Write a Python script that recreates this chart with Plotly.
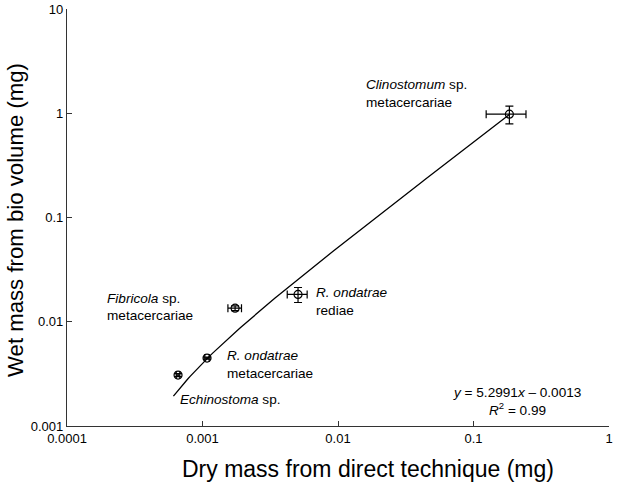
"""Wet mass from bio volume vs dry mass from direct technique (log-log)."""
import numpy as np
import plotly.graph_objects as go

FONT = "Liberation Sans, Arial, sans-serif"

# Parasite groups
groups = ["Clinostomum sp.", "R. ondatrae rediae", "Fibricola sp.",
          "R. ondatrae metacercariae", "Echinostoma sp."]
dry_mass = [0.184, 0.00507, 0.00174, 0.00108, 0.00066]
dry_err = [0.06, 0.00085, 0.0002, 0.00004, 0.00002]
wet_mass = [0.98, 0.0183, 0.0135, 0.00448, 0.00308]
wet_err = [0.19, 0.003, 0.0007, 0.0001, 0.0001]

# Fitted line shown on the chart
SLOPE = 5.2991
INTERCEPT = -0.0013
fit_x_range = [0.00061, 0.184]

x_ticks = [0.0001, 0.001, 0.01, 0.1, 1]
x_tick_text = ["0.0001", "0.001", "0.01", "0.1", "1"]
y_ticks = [0.001, 0.01, 0.1, 1, 10]
y_tick_text = ["0.001", "0.01", "0.1", "1", "10"]

fit_x = np.logspace(np.log10(fit_x_range[0]), np.log10(fit_x_range[1]), 120)
fit_y = SLOPE * fit_x + INTERCEPT

W, H = 617, 483
L, R, T, B = 67, 8, 9, 57
pw, ph = W - L - R, H - T - B


def to_paper(px, py):
    return (px - L) / pw, 1 - (py - T) / ph


fig = go.Figure()

fig.add_trace(go.Scatter(
    x=fit_x, y=fit_y, mode="lines",
    line=dict(color="black", width=1.3),
    showlegend=False, hoverinfo="skip",
))

fig.add_trace(go.Scatter(
    x=dry_mass, y=wet_mass, mode="markers",
    marker=dict(symbol="circle-open", size=8, color="black", line=dict(width=1.2)),
    error_x=dict(type="data", array=dry_err, color="black", thickness=1.2, width=4),
    error_y=dict(type="data", array=wet_err, color="black", thickness=1.2, width=4),
    text=groups, showlegend=False,
))

# Point labels: (x px, y px, text)
labels = [
    (364, 84, "<i>Clinostomum</i> sp."),
    (364, 103, "metacercariae"),
    (105, 298, "<i>Fibricola</i> sp."),
    (105, 315, "metacercariae"),
    (314, 292, "<i>R. ondatrae</i>"),
    (314, 310, "rediae"),
    (225, 355, "<i>R. ondatrae</i>"),
    (225, 373, "metacercariae"),
    (178, 399, "<i>Echinostoma</i> sp."),
]
for px, py, txt in labels:
    xp, yp = to_paper(px, py)
    fig.add_annotation(
        x=xp, y=yp, xref="paper", yref="paper", text=txt,
        showarrow=False, xanchor="left", yanchor="middle",
        font=dict(family=FONT, size=13.6, color="black"),
    )

for px, py, txt in [
    (517, 392, "<i>y</i> = 5.2991<i>x</i> – 0.0013"),
    (517, 409, "<i>R</i><sup>2</sup> = 0.99"),
]:
    xp, yp = to_paper(px, py)
    fig.add_annotation(
        x=xp, y=yp, xref="paper", yref="paper", text=txt,
        showarrow=False, xanchor="center", yanchor="middle",
        font=dict(family=FONT, size=13.6, color="black"),
    )

# Axis titles
xp, yp = to_paper(368, 469)
fig.add_annotation(
    x=xp, y=yp, xref="paper", yref="paper",
    text="Dry mass from direct technique (mg)",
    showarrow=False, xanchor="center", yanchor="middle",
    font=dict(family=FONT, size=23, color="black"),
)
xp, yp = to_paper(16, 220)
fig.add_annotation(
    x=xp, y=yp, xref="paper", yref="paper",
    text="Wet mass from bio volume (mg)", textangle=-90,
    showarrow=False, xanchor="center", yanchor="middle",
    font=dict(family=FONT, size=22.2, color="black"),
)

axis_common = dict(
    type="log", showgrid=False, zeroline=False,
    showline=True, linecolor="#333", linewidth=1.3,
    ticks="inside", ticklen=5, tickwidth=1.2, tickcolor="#333",
    tickfont=dict(family=FONT, size=13, color="black"),
    mirror=False, automargin=False,
)

fig.update_layout(
    width=W, height=H,
    margin=dict(l=L, r=R, t=T, b=B),
    paper_bgcolor="white", plot_bgcolor="white",
    font=dict(family=FONT, color="black"),
    xaxis=dict(**axis_common, range=[-4, 0],
               tickvals=x_ticks, ticktext=x_tick_text),
    yaxis=dict(**axis_common, range=[-3, 1],
               tickvals=y_ticks, ticktext=y_tick_text),
)

# drop the page's default body margin so the figure sits at the window origin
fig.write_html(
    "out.html",
    config={"displayModeBar": False},
    post_script="document.body.style.margin='0';",
)
